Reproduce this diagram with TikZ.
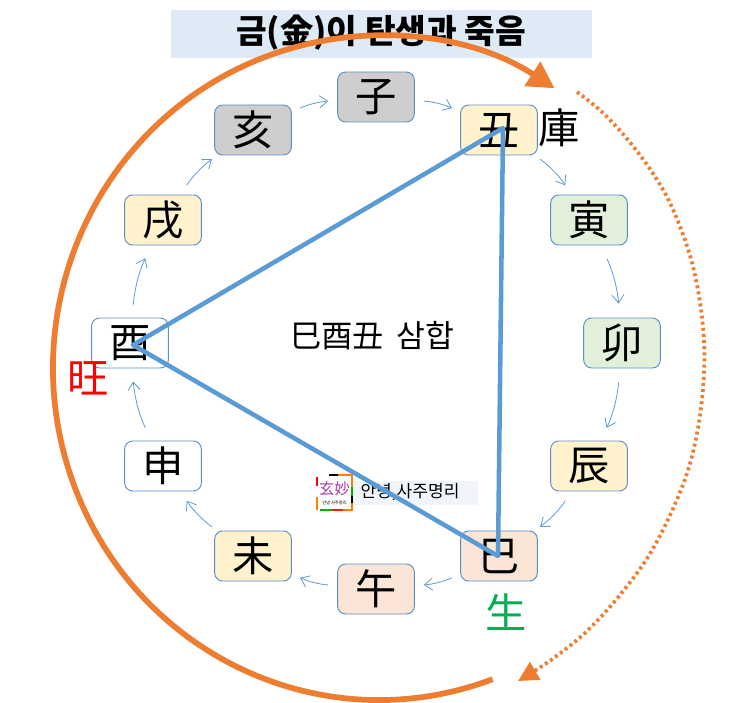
\documentclass[tikz,border=0pt]{standalone}
\usepackage{fontspec}
\setmainfont{Noto Sans CJK KR}
\usetikzlibrary{positioning,arrows.meta,calc}
\definecolor{ringc}{HTML}{ED7D31}
\definecolor{triac}{HTML}{5B9BD5}
\definecolor{edgec}{HTML}{5B8FC2}
\definecolor{greyc}{HTML}{CFCDCD}
\definecolor{yelc}{HTML}{FFF2CC}
\definecolor{grnc}{HTML}{E2EFDA}
\definecolor{pinkc}{HTML}{FBE5D6}
\begin{document}
\begin{tikzpicture}[
    x=0.75pt, y=-0.75pt,
    branch/.style={rectangle, draw=edgec, line width=0.7pt, rounded corners=6pt, minimum width=57.5pt, minimum height=37.5pt, inner sep=0pt, font=\fontsize{31}{31}\selectfont},
    tag/.style={inner sep=0pt, font=\fontsize{31}{31}\selectfont},
    link/.style={draw=triac, line width=0.6pt, -{Straight Barb[length=6pt,width=9pt]}, bend left=10},
    tri/.style={draw=triac, line width=3.4pt, line cap=round, line join=round},
    ring/.style={draw=ringc, line width=4.3pt},
    ringdot/.style={draw=ringc, line width=2.8pt, dash pattern=on 2.2pt off 2.4pt},
    seg/.style={line width=1.1pt}
  ]
  \useasboundingbox (0,0) rectangle (755,702);

  % title
  \node[fill=triac!20, minimum width=316pt, minimum height=36pt, inner sep=0pt] (titlebar) at (381.5,34) {};
  \node[font=\fontsize{25}{25}\selectfont\bfseries] (title) at (381,33) {금(金)이 탄생과 죽음};

  % twelve branches
  \node[branch, fill=greyc] (ja) at (376,97) {子};
  \node[branch, fill=yelc] (chuk) at (499,130) {丑};
  \node[branch, fill=grnc] (in) at (589,220) {寅};
  \node[branch, fill=grnc] (myo) at (622,343) {卯};
  \node[branch, fill=yelc] (jin) at (589,466) {辰};
  \node[branch, fill=pinkc] (sa) at (499,556) {巳};
  \node[branch, fill=pinkc] (o) at (376,589) {午};
  \node[branch, fill=yelc] (mi) at (253,556) {未};
  \node[branch] (sin) at (163,466) {申};
  \node[branch] (yu) at (130,343) {酉};
  \node[branch, fill=yelc] (sul) at (163,220) {戌};
  \node[branch, fill=greyc] (hae) at (253,130) {亥};

  % labels
  \node[tag] (go) at (559,128) {庫};
  \node[tag, text=red] (wang) at (88,378) {旺};
  \node[tag, text={rgb,255:red,0;green,176;blue,80}] (saeng) at (506,612) {生};
  \node[font=\fontsize{23.5}{23.5}\selectfont] (samhap) at (372,336) {巳酉丑 \,삼합};

  % watermark
  \node[fill=triac!10, minimum width=94pt, minimum height=18pt, inner sep=0pt] (markbar) at (415.5,493) {};
  \node[font=\fontsize{12.8}{12.8}\selectfont] (marktext) at (410,492) {안녕,사주명리};
  \node[minimum width=26pt, minimum height=26pt, inner sep=0pt, font=\fontsize{11.5}{11.5}\selectfont, text={rgb,255:red,170;green,60;blue,170}] (logo) at (334.5,489) {玄妙};
  \node[font=\fontsize{3.2}{3.2}\selectfont, inner sep=0pt] (logotext) at (334.5,503) {안녕 사주명리};
  \draw[red, seg] (317,477) -- (317,486);
  \draw[orange, seg] (317,497) -- (317,510);
  \draw[black, seg] (329,475) -- (338,475);
  \draw[orange, seg] (338,475) -- (352,475) -- (352,487);
  \draw[green!70!black, seg] (352,487) -- (352,496);
  \draw[black, seg] (352,496) -- (352,503);
  \draw[orange, seg] (352,503) -- (352,510) -- (343,510);
  \draw[red!80!orange, seg] (343,510) -- (332,510);
  \draw[green!70!black, seg] (332,510) -- (320,510);

  % cycle
  \foreach \a/\b/\p/\q in {ja/chuk/9/9, chuk/in/6/11, in/myo/15/14, myo/jin/14/14, jin/sa/11/6, sa/o/9/9,
      o/mi/9/9, mi/sin/6/11, sin/yu/14/13, yu/sul/13/14, sul/hae/11/6, hae/ja/9/9}
    \draw[link, shorten <=\p*0.75pt, shorten >=\q*0.75pt] (\a) to (\b);

  % triangle
  \coordinate (tchuk) at (503,128);
  \coordinate (tyu) at (133,345);
  \coordinate (tsa) at (498,556);
  \draw[tri] (tyu) -- (tchuk) -- (tsa) -- cycle;

  % outer ring
  \coordinate (ringo) at (379,368);
  \draw[ring, -{Triangle[length=20pt,width=21pt]}] ($(ringo)+(69.6:326 and 332)$) arc[start angle=69.6, end angle=302.6, x radius=326, y radius=332];
  \draw[ringdot, -{Triangle[length=15pt,width=15pt]}] plot[smooth, tension=0.6] coordinates {(577,92) (602,112) (628,140) (652,172) (670,203) (686,243) (696,280) (703,327) (704,373) (698,428) (684,482) (655,545) (624,590) (587,631) (551,660) (518,681)};
\end{tikzpicture}
\end{document}
